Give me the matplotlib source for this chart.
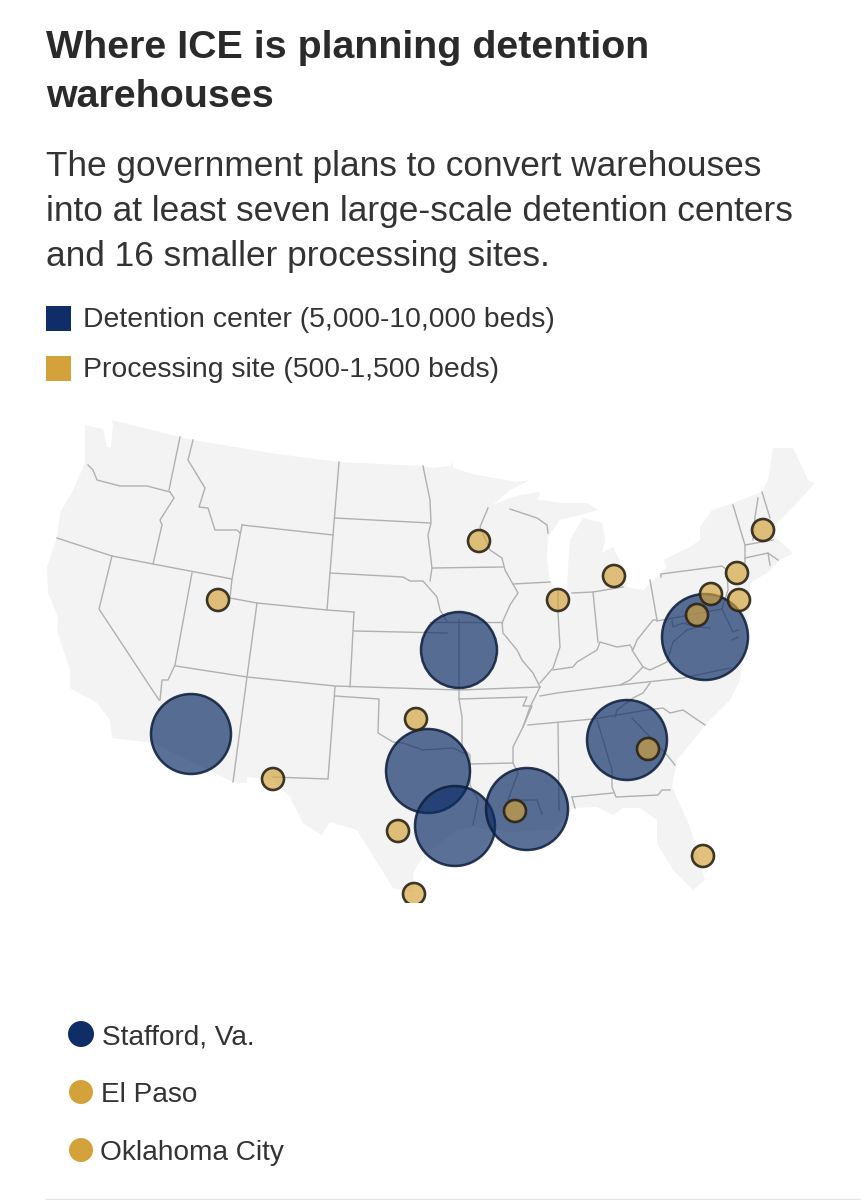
import matplotlib
matplotlib.use('Agg')
import matplotlib.pyplot as plt
from matplotlib.patches import Circle, Polygon, Rectangle

plt.rcParams['font.family'] = ['Liberation Sans', 'DejaVu Sans']

NAVY = '#0f2d67'
GOLD = '#d4a23a'

title_lines = ['Where ICE is planning detention', 'warehouses']
subtitle_lines = ['The government plans to convert warehouses',
                  'into at least seven large-scale detention centers',
                  'and 16 smaller processing sites.']
legend_labels = ['Detention center (5,000-10,000 beds)', 'Processing site (500-1,500 beds)']
city_labels = ['Stafford, Va.', 'El Paso', 'Oklahoma City']

# sites
detention_x = [705, 459, 191, 428, 455, 527, 627]
detention_y = [637, 650, 734, 771, 826, 809, 740]
detention_r = [43, 38, 40, 42, 40, 41, 40]
processing_x = [218, 479, 558, 614, 763, 737, 711, 739, 697, 416, 273, 398, 648, 515, 703, 414]
processing_y = [600, 541, 600, 576, 530, 573, 594, 600, 615, 719, 779, 831, 749, 811, 856, 894]

# country outline
outline = [(85, 425), (103, 429), (107, 447), (111, 447), (113, 424), (112, 420), (180, 437), (193, 440),
           (270, 453), (339, 462), (423, 466), (431, 468), (451, 466), (452, 460), (453, 468), (477, 475),
           (517, 482), (530, 480), (510, 490), (493, 505), (510, 498), (520, 495), (540, 492), (538, 500),
           (563, 503), (587, 503), (598, 510), (580, 515), (560, 520), (548, 537), (547, 560), (550, 580),
           (556, 590), (567, 593), (568, 567), (570, 540), (583, 518), (602, 523), (605, 540), (602, 553),
           (613, 547), (623, 567), (627, 587), (643, 590), (667, 567), (663, 560), (690, 547), (700, 540),
           (700, 527), (712, 510), (733, 503), (762, 492), (768, 480), (773, 448), (793, 448), (808, 480),
           (815, 483), (797, 503), (777, 523), (775, 537), (793, 553), (780, 560), (767, 573), (750, 583),
           (750, 610), (745, 640), (740, 680), (730, 700), (707, 723), (677, 760), (672, 787), (690, 827),
           (705, 880), (693, 890), (673, 870), (657, 843), (657, 820), (640, 808), (623, 808), (613, 815),
           (597, 807), (573, 808), (553, 830), (510, 832), (473, 827), (457, 830), (423, 857), (413, 873),
           (415, 893), (393, 888), (380, 867), (357, 830), (330, 822), (322, 835), (303, 823), (290, 797),
           (273, 780), (247, 777), (247, 783), (233, 782), (153, 743), (112, 738), (110, 720), (97, 703),
           (70, 688), (70, 670), (57, 630), (58, 617), (48, 593), (47, 567), (57, 538), (60, 513), (73, 490),
           (85, 463)]

# state borders
borders = [
    [(88, 465), (93, 470), (97, 480), (120, 486), (147, 486), (170, 492)],
    [(180, 437), (169, 490)],
    [(170, 492), (174, 498), (160, 520), (162, 525), (153, 564)],
    [(193, 440), (188, 460), (205, 488), (199, 507), (208, 508), (215, 530), (237, 530), (240, 533)],
    [(242, 525), (232, 579), (230, 598)],
    [(242, 525), (333, 535)],
    [(339, 462), (333, 535), (327, 610)],
    [(335, 518), (430, 523)],
    [(330, 573), (403, 577), (410, 581), (423, 581), (437, 597), (440, 610), (447, 622)],
    [(423, 466), (430, 500), (431, 523), (428, 535), (432, 568), (430, 581)],
    [(57, 538), (112, 556), (153, 564), (232, 579)],
    [(112, 556), (99, 609), (159, 700)],
    [(192, 573), (175, 665), (168, 680), (162, 680), (160, 700)],
    [(230, 598), (257, 603), (327, 610), (354, 612)],
    [(257, 603), (247, 677), (233, 782)],
    [(176, 666), (247, 677), (335, 686), (459, 690), (540, 687)],
    [(354, 612), (350, 687)],
    [(354, 631), (447, 633)],
    [(335, 687), (328, 779), (273, 777)],
    [(335, 696), (379, 699), (378, 733), (393, 742), (403, 743), (423, 750), (453, 748), (468, 755)],
    [(459, 620), (459, 699), (462, 717), (462, 747), (470, 755), (470, 785), (478, 800), (473, 825)],
    [(459, 699), (527, 697), (523, 706), (532, 706), (523, 727), (513, 747), (513, 763), (518, 773),
     (508, 800), (537, 800), (542, 814)],
    [(470, 764), (513, 763)],
    [(558, 723), (559, 810)],
    [(528, 725), (593, 719), (647, 710), (663, 708), (670, 713), (683, 710), (705, 725)],
    [(597, 720), (612, 770), (612, 787), (616, 797), (658, 795), (662, 790), (670, 790)],
    [(572, 797), (613, 793)],
    [(572, 797), (575, 808)],
    [(632, 718), (650, 737), (667, 755), (675, 765)],
    [(650, 683), (643, 693), (633, 698), (617, 710), (615, 717)],
    [(540, 696), (557, 693), (620, 685), (683, 678), (730, 668)],
    [(502, 623), (503, 633), (517, 650), (522, 660), (533, 673), (540, 687), (530, 707), (523, 727)],
    [(430, 622), (502, 622)],
    [(502, 623), (510, 605), (518, 593), (505, 570), (502, 558), (490, 550), (480, 527), (488, 508)],
    [(432, 568), (503, 567)],
    [(513, 584), (550, 582)],
    [(510, 509), (537, 518), (547, 525), (548, 533)],
    [(558, 590), (558, 613), (560, 647), (553, 668), (540, 683)],
    [(572, 593), (593, 592), (623, 587)],
    [(593, 592), (598, 642)],
    [(553, 670), (573, 667), (577, 662), (597, 650), (600, 642), (617, 647), (630, 645), (633, 650),
     (637, 640), (653, 620), (657, 620)],
    [(650, 580), (657, 620)],
    [(657, 621), (722, 609)],
    [(661, 577), (661, 574), (722, 566), (727, 570), (728, 590), (722, 609)],
    [(733, 505), (745, 545), (745, 563)],
    [(745, 545), (773, 540)],
    [(745, 558), (768, 553), (770, 565)],
    [(768, 553), (778, 560)],
    [(762, 492), (770, 518)],
    [(758, 498), (755, 517), (753, 540)],
    [(632, 650), (643, 667), (630, 680), (620, 685)],
    [(643, 667), (650, 670), (667, 662), (673, 642), (687, 630), (697, 627)],
    [(672, 620), (673, 627), (683, 623), (697, 627), (710, 628)],
    [(722, 609), (733, 632), (738, 630)],
    [(732, 640), (738, 637)],
]

fig = plt.figure(figsize=(8.61, 12), dpi=100)
ax = fig.add_axes([0, 0, 1, 1])
ax.set_xlim(0, 861)
ax.set_ylim(1200, 0)
ax.axis('off')

for i, line in enumerate(title_lines):
    ax.text(46, 58 + i * 49, line, fontsize=28.4, fontweight='bold', color='#2a2a2a', va='baseline')
for i, line in enumerate(subtitle_lines):
    ax.text(46, 176 + i * 45, line, fontsize=25.4, color='#333333', va='baseline')

for i, (label, col) in enumerate(zip(legend_labels, [NAVY, GOLD])):
    ax.add_patch(Rectangle((46, 306 + i * 50), 25, 25, color=col, lw=0))
    ax.text(83, 327 + i * 50, label, fontsize=20.4, color='#333333', va='baseline')

clip = Rectangle((0, 410), 861, 493, transform=ax.transData)

ax.add_patch(Polygon(outline, closed=True, facecolor='#f3f3f3', edgecolor='none', zorder=1))
for b in borders:
    xs, ys = zip(*b)
    ax.plot(xs, ys, color='#b0b0b0', lw=1.0, zorder=2, solid_joinstyle='round')

for x, y, r in zip(detention_x, detention_y, detention_r):
    ax.add_patch(Circle((x, y), r, facecolor=NAVY + 'ae', edgecolor='#10203ee0', lw=1.8, zorder=3))
for x, y in zip(processing_x, processing_y):
    c = Circle((x, y), 11, facecolor=GOLD + 'a8', edgecolor='#2a2415e6', lw=1.9, zorder=4)
    ax.add_patch(c)
    c.set_clip_path(clip)

city_x = [81, 81, 81]
city_y = [1034, 1092, 1150]
city_r = [13, 12, 12]
city_text_x = [102, 101, 100]
for x, y, r, tx, label, col in zip(city_x, city_y, city_r, city_text_x, city_labels, [NAVY, GOLD, GOLD]):
    ax.add_patch(Circle((x, y), r, color=col, lw=0))
    ax.text(tx, y + 10, label, fontsize=20.2, color='#333333', va='baseline')

ax.plot([46, 861], [1199, 1199], color='#e6e6e6', lw=1)

fig.savefig('out.png', dpi=100, facecolor='white')
